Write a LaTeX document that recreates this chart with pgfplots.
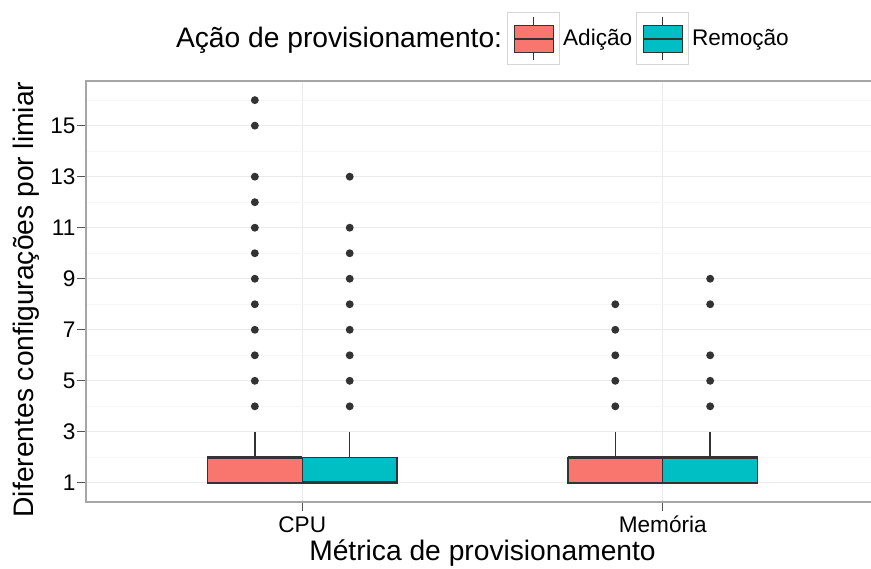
\documentclass[border=0pt]{standalone}
\usepackage{fontspec}
\setmainfont{Liberation Sans}
\usepackage{pgfplots}
\pgfplotsset{compat=1.18}
\usepgfplotslibrary{statistics}
\definecolor{adicao}{HTML}{F8766D}
\definecolor{remocao}{HTML}{00BFC4}
\definecolor{bxline}{HTML}{333333}
\definecolor{gridmaj}{HTML}{EBEBEB}
\definecolor{gridmin}{HTML}{F6F6F6}
\definecolor{panelb}{HTML}{A6A6A6}
\definecolor{keyb}{HTML}{D6D6D6}
\definecolor{tickc}{HTML}{555555}
\pgfplotsset{
  boxkey/.style={legend image code/.code={
    \draw[keyb, fill=white, line width=0.5pt] (0pt,-13pt) rectangle (26pt,13pt);
    \draw[bxline, line width=0.7pt] (13pt,-10.75pt) -- (13pt,10.75pt);
    \draw[bxline, fill=#1, line width=0.7pt] (3.5pt,-6.75pt) rectangle (23pt,6.75pt);
    \draw[bxline, line width=1.3pt] (3.5pt,0pt) -- (23pt,0pt);
  }},
  bx/.style={draw=bxline, fill=#1, line width=0.7pt, solid,
    mark=*, mark size=1.6pt, mark options={fill=bxline, draw=bxline, solid}},
}
\begin{document}
\begin{tikzpicture}
\useasboundingbox (0,0) rectangle (435.5pt,284pt);
\begin{axis}[
  at={(43pt,33pt)}, anchor=south west,
  scale only axis, width=396.5pt, height=210.5pt,
  xmin=0.4, xmax=2.6, ymin=0.25, ymax=16.75,
  xtick={1,2}, xticklabels={CPU,Memória},
  ytick={1,3,...,15},
  minor ytick={2,4,...,16},
  grid=both,
  major grid style={gridmaj, line width=0.6pt},
  minor grid style={gridmin, line width=0.4pt},
  axis line style={draw=none},
  tick style={tickc, line width=0.6pt},
  tick align=outside, tick pos=left,
  major tick length=4.5pt, minor tick length=0pt,
  /pgf/number format/assume math mode=true,
  ticklabel style={font=\fontsize{11.3}{13}\selectfont, text=black},
  yticklabel style={anchor=east, inner sep=0pt, xshift=-0.6pt},
  xticklabel style={anchor=base, inner sep=0pt, yshift=-10.5pt},
  xlabel={Métrica de provisionamento},
  ylabel={Diferentes configurações por limiar},
  xlabel style={at={(axis description cs:0.5,-0.140)}, anchor=base, font=\fontsize{14.1}{17}\selectfont},
  ylabel style={at={(axis description cs:-0.0668,0.481)}, anchor=base, font=\fontsize{14.1}{17}\selectfont},
  legend columns=-1,
  legend style={at={(axis description cs:0.1136,1.0998)}, anchor=west,
    draw=none, fill=none, inner sep=0pt, outer sep=0pt,
    font=\fontsize{11.3}{13}\selectfont,
    nodes={inner sep=0pt},
    /tikz/column 2/.style={column sep=2.5pt},
    /tikz/column 3/.style={column sep=1.5pt},
    /tikz/column 4/.style={column sep=1.8pt},
    /tikz/column 5/.style={column sep=1.6pt}},
  boxplot/draw direction=y,
  after end axis/.code={
    \draw[panelb, line width=0.6pt] (rel axis cs:1,1) -- (rel axis cs:0,1) -- (rel axis cs:0,0) -- (rel axis cs:1,0);
  },
]
\addlegendimage{empty legend}
\addlegendentry{\fontsize{14.1}{17}\selectfont Ação de provisionamento:}

\addplot[bx=adicao, boxkey=adicao,
  boxplot prepared={draw direction=y, draw position=0.8684, lower whisker=1, lower quartile=1,
    median=2, upper quartile=2, upper whisker=3, box extend=0.263, whisker extend=0,
    every median/.style={line width=1.5pt}}]
  table[row sep=\\, y index=0] {v\\ 4\\ 5\\ 6\\ 7\\ 8\\ 9\\ 10\\ 11\\ 12\\ 13\\ 15\\ 16\\};
\addlegendentry{Adição}

\addplot[bx=remocao, boxkey=remocao,
  boxplot prepared={draw direction=y, draw position=1.1316, lower whisker=1, lower quartile=1,
    median=1, upper quartile=2, upper whisker=3, box extend=0.263, whisker extend=0,
    every median/.style={line width=1.5pt}}]
  table[row sep=\\, y index=0] {v\\ 4\\ 5\\ 6\\ 7\\ 8\\ 9\\ 10\\ 11\\ 13\\};
\addlegendentry{Remoção}

\addplot[bx=adicao, forget plot,
  boxplot prepared={draw direction=y, draw position=1.8684, lower whisker=1, lower quartile=1,
    median=2, upper quartile=2, upper whisker=3, box extend=0.263, whisker extend=0,
    every median/.style={line width=1.5pt}}]
  table[row sep=\\, y index=0] {v\\ 4\\ 5\\ 6\\ 7\\ 8\\};

\addplot[bx=remocao, forget plot,
  boxplot prepared={draw direction=y, draw position=2.1316, lower whisker=1, lower quartile=1,
    median=2, upper quartile=2, upper whisker=3, box extend=0.263, whisker extend=0,
    every median/.style={line width=1.5pt}}]
  table[row sep=\\, y index=0] {v\\ 4\\ 5\\ 6\\ 8\\ 9\\};
\end{axis}
\end{tikzpicture}
\end{document}
